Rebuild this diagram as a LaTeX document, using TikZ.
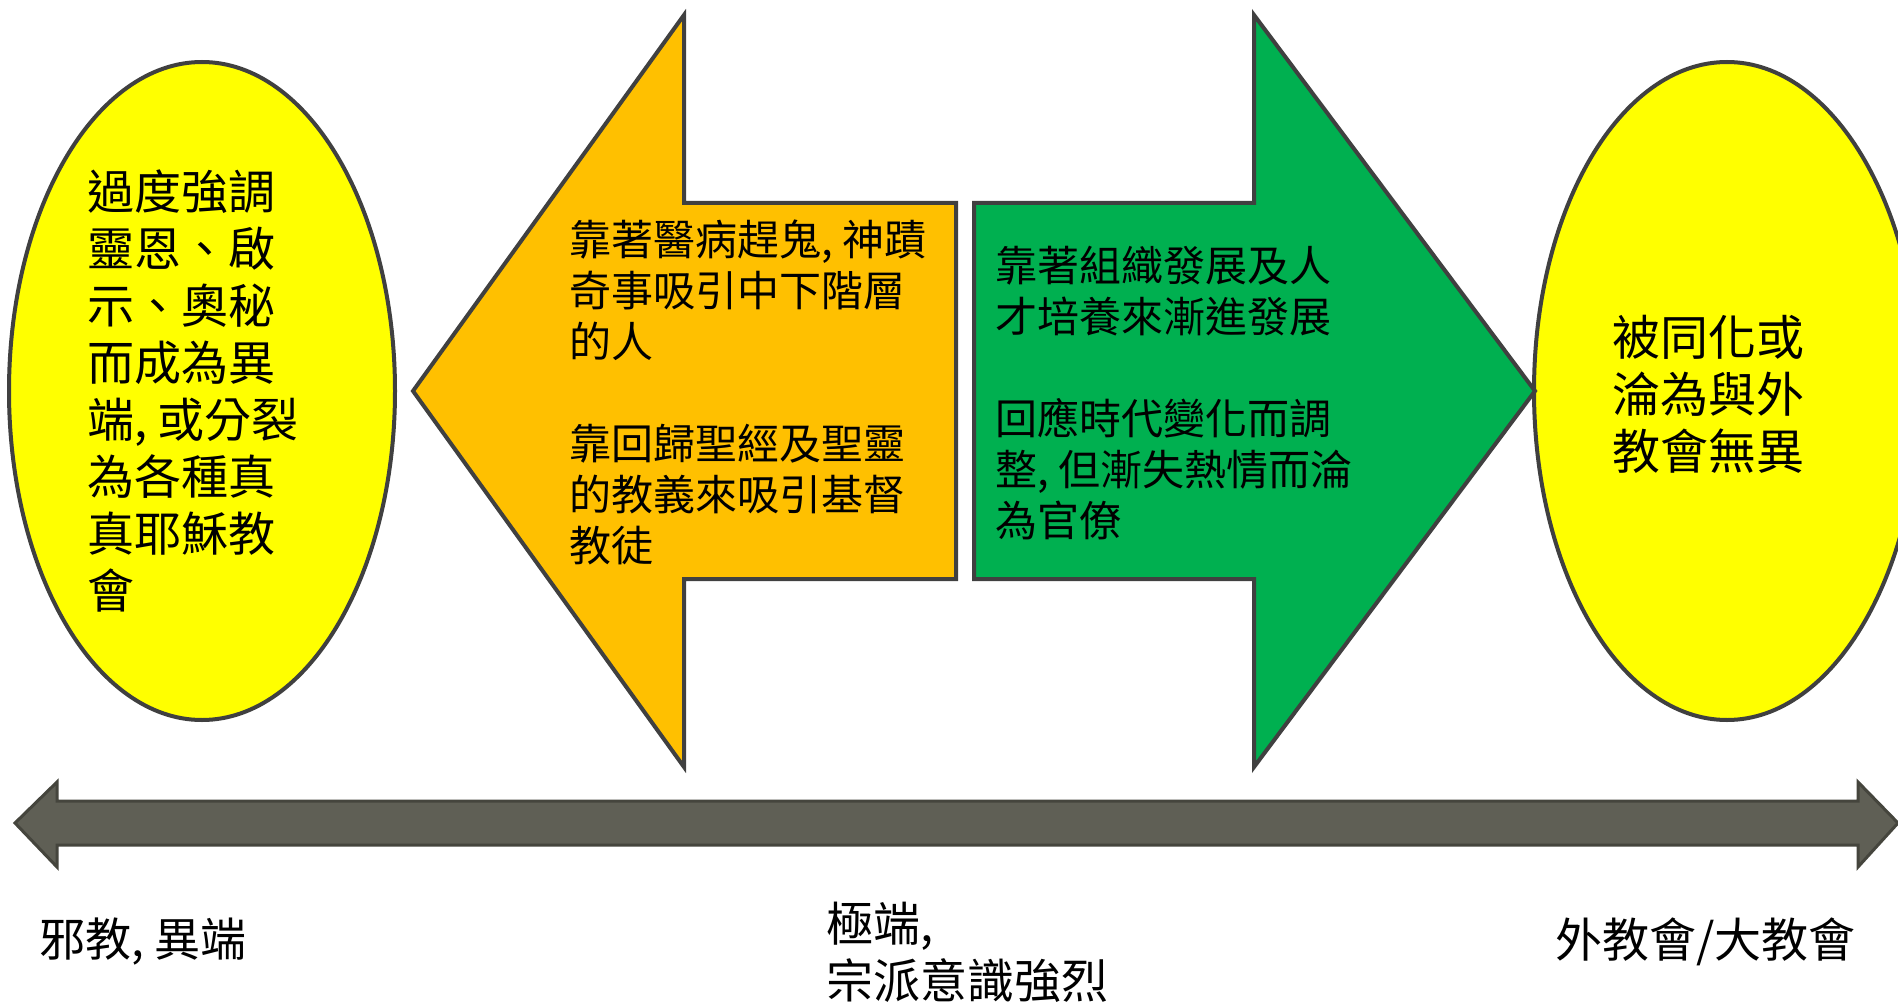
\documentclass[tikz,border=0pt]{standalone}
\usepackage{fontspec}
\setmainfont{Noto Sans CJK TC}
\usetikzlibrary{shapes.geometric}
\definecolor{linegray}{HTML}{404040}
\definecolor{orangefill}{HTML}{FFC000}
\definecolor{greenfill}{HTML}{00B050}
\definecolor{yellowfill}{HTML}{FFFF00}
\definecolor{barfill}{HTML}{5F5F55}
\definecolor{bardark}{HTML}{45453D}
\begin{document}
\begin{tikzpicture}[x=1pt,y=-1pt,
  outl/.style={draw=linegray, line width=4pt, line join=miter},
  oval/.style={outl, ellipse, fill=yellowfill, inner sep=0pt, minimum width=386pt, minimum height=658pt},
  txt/.style={anchor=north west, inner sep=0pt, align=left},
]
\useasboundingbox[fill=white] (0,0) rectangle (1898,1003);

% ellipses
\node[oval] (lov) at (202,391) {};
\node[oval] (rov) at (1727,391) {};

% orange left arrow
\draw[outl, fill=orangefill] (413,391) -- (684,15) -- (684,203) -- (956,203) -- (956,579) -- (684,579) -- (684,767) -- cycle;
% green right arrow
\draw[outl, fill=greenfill] (974,203) -- (1254,203) -- (1254,15) -- (1535,391) -- (1254,767) -- (1254,579) -- (974,579) -- cycle;

% bottom double arrow
\draw[draw=bardark, line width=3pt, fill=barfill, line join=miter] (15,823) -- (57,782) -- (57,801) -- (1858,801) -- (1858,782) -- (1898,823) -- (1858,867) -- (1858,845) -- (57,845) -- (57,867) -- cycle;

% texts
\node[txt, font=\fontsize{47}{57}\selectfont] (lt) at (87,170) {過度強調\\靈恩、啟\\示、奧秘\\而成為異\\端, 或分裂\\為各種真\\真耶穌教\\會};
\node[txt, font=\fontsize{42}{51}\selectfont] (ot) at (569,220) {靠著醫病趕鬼, 神蹟\\奇事吸引中下階層\\的人\\[51pt]靠回歸聖經及聖靈\\的教義來吸引基督\\教徒};
\node[txt, font=\fontsize{42}{51}\selectfont] (gt) at (995,246) {靠著組織發展及人\\才培養來漸進發展\\[51pt]回應時代變化而調\\整, 但漸失熱情而淪\\為官僚};
\node[txt, font=\fontsize{48}{57}\selectfont] (rt) at (1612,315) {被同化或\\淪為與外\\教會無異};

\node[txt, font=\fontsize{46}{57}\selectfont] (bl) at (39,918) {邪教, 異端};
\node[txt, font=\fontsize{47}{57}\selectfont] (bm) at (826,902) {極端,\\宗派意識強烈};
\node[txt, font=\fontsize{47}{57}\selectfont] (br) at (1555,918) {外教會/大教會};
\end{tikzpicture}
\end{document}
